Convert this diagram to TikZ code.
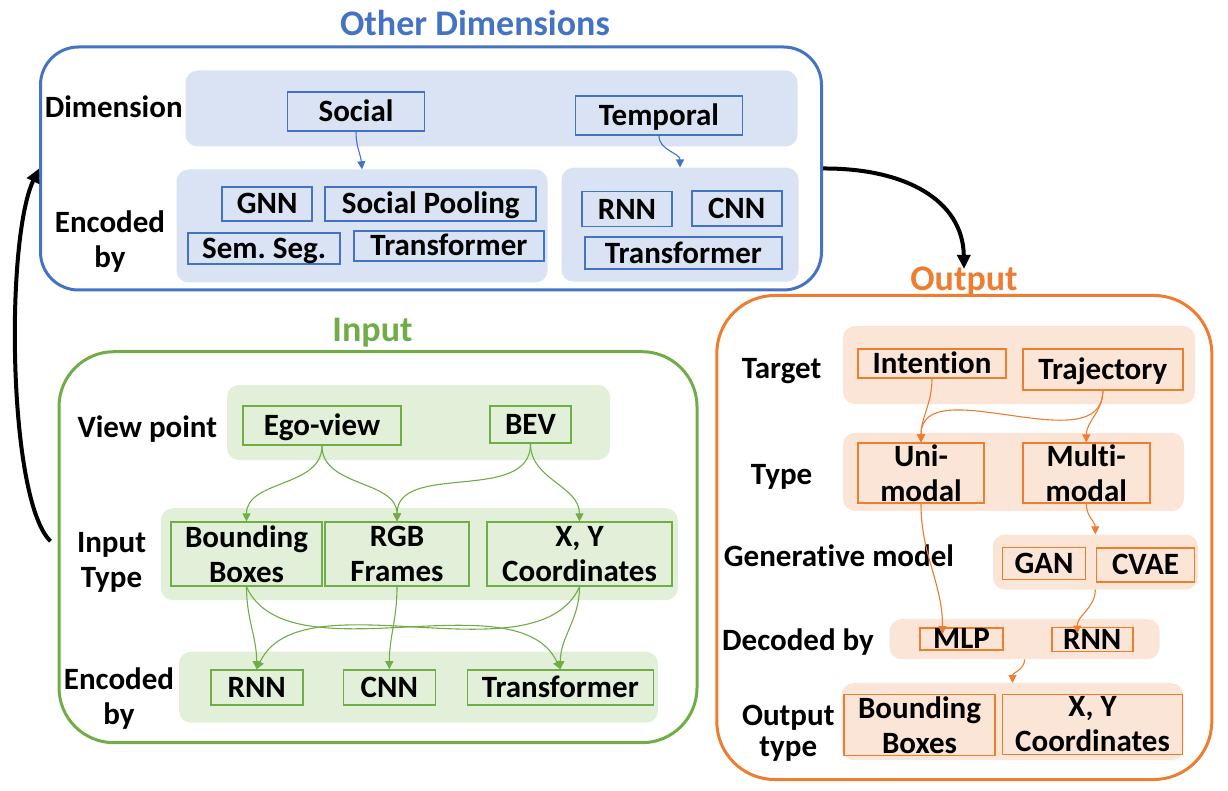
\documentclass[tikz,border=0pt]{standalone}
\usepackage{fontspec}
\setmainfont{Carlito}[Ligatures=NoCommon]
\usetikzlibrary{arrows.meta}
\frenchspacing

\definecolor{odblue}{HTML}{4472C4}
\definecolor{odband}{HTML}{DAE3F3}
\definecolor{ingreen}{HTML}{70AD47}
\definecolor{inband}{HTML}{E2F0D9}
\definecolor{outorange}{HTML}{ED7D31}
\definecolor{outband}{HTML}{FBE5D6}

\tikzset{
  lbl/.style={font=\fontsize{31}{35}\selectfont\bfseries, align=center, inner sep=0pt},
  oneline/.style={text height=20pt, text depth=0pt},
  ttl/.style={font=\fontsize{36}{40}\selectfont\bfseries, inner sep=0pt, anchor=base},
  panel/.style={draw=#1, line width=3pt, inner sep=0pt},
  band/.style={fill=#1, rounded corners=12pt, inner sep=0pt},
  item/.style={lbl, draw=#1, line width=1.6pt},
  link/.style={-{Triangle[length=8pt,width=8pt]}, draw=#1, line width=1.1pt},
  bigarrow/.style={-{Triangle[length=14pt,width=13pt]}, line width=4pt},
}

\begin{document}
\begin{tikzpicture}[x=1pt, y=-1pt]
\useasboundingbox (0,0) rectangle (1228,791);

% other dimensions
\node[panel=odblue, rounded corners=38pt, minimum width=781pt, minimum height=243pt] (oth) at (431,168.5) {};
\node[ttl, text=odblue] (othttl) at (475,36) {Other Dimensions};
\node[band=odband, minimum width=612pt, minimum height=76pt] (dimband) at (491.5,108.5) {};
\node[band=odband, minimum width=371pt, minimum height=113pt] (encl) at (362,226) {};
\node[band=odband, minimum width=237pt, minimum height=114pt] (encr) at (680,224.7) {};
\node[lbl, oneline] (dimlbl) at (113.7,107.5) {Dimension};
\node[lbl] (oenclbl) at (110,242) {Encoded\\by};
\node[item=odblue, oneline, minimum width=137pt, minimum height=39pt] (social) at (356,111.7) {Social};
\node[item=odblue, oneline, minimum width=167pt, minimum height=39pt] (temporal) at (659,115.5) {Temporal};
\node[item=odblue, oneline, minimum width=90pt, minimum height=34pt] (gnn) at (267.2,203.9) {GNN};
\node[item=odblue, oneline, minimum width=211pt, minimum height=34pt] (spool) at (430.7,203.9) {Social Pooling};
\node[item=odblue, oneline, minimum width=152pt, minimum height=31pt] (semseg) at (264.2,248.4) {Sem. Seg.};
\node[item=odblue, oneline, minimum width=190pt, minimum height=30pt] (otfl) at (449,246) {Transformer};
\node[item=odblue, oneline, minimum width=90pt, minimum height=35pt] (ornn) at (627,209.2) {RNN};
\node[item=odblue, oneline, minimum width=90pt, minimum height=35pt] (ocnn) at (736.7,208.5) {CNN};
\node[item=odblue, oneline, minimum width=197pt, minimum height=32pt] (otfr) at (683.4,253.3) {Transformer};
\draw[link=odblue] (social.south) to[out=-90,in=95] (encl.north);
\draw[link=odblue] (temporal.south) to[out=-90,in=90] (encr.north);

% input
\node[panel=ingreen, rounded corners=55pt, minimum width=638pt, minimum height=391pt] (inp) at (378,547.2) {};
\node[ttl, text=ingreen] (inpttl) at (372.5,341.7) {Input};
\node[band=inband, minimum width=383pt, minimum height=75pt] (vpband) at (418.5,422.5) {};
\node[band=inband, minimum width=517pt, minimum height=92pt] (itband) at (419.3,554.2) {};
\node[band=inband, minimum width=479pt, minimum height=71pt] (ieband) at (418.5,687.2) {};
\node[lbl, oneline] (vplbl) at (147.3,427.5) {View point};
\node[lbl] (itlbl) at (111.5,562) {Input\\Type};
\node[lbl] (ienclbl) at (119,699) {Encoded\\by};
\node[item=ingreen, oneline, minimum width=158pt, minimum height=39pt] (ego) at (322,425.5) {Ego-view};
\node[item=ingreen, oneline, minimum width=81pt, minimum height=37pt] (bev) at (530.5,424.7) {BEV};
\node[item=ingreen, minimum width=151pt, minimum height=64pt] (bbin) at (246.5,554.2) {Bounding\\Boxes};
\node[item=ingreen, minimum width=144pt, minimum height=64pt] (rgb) at (397,554.2) {RGB\\Frames};
\node[item=ingreen, minimum width=185pt, minimum height=64pt] (xyin) at (579.5,554.2) {X, Y\\Coordinates};
\node[item=ingreen, oneline, minimum width=92pt, minimum height=35pt] (irnn) at (256.7,687.5) {RNN};
\node[item=ingreen, oneline, minimum width=92pt, minimum height=35pt] (icnn) at (389.3,687.5) {CNN};
\node[item=ingreen, oneline, minimum width=186pt, minimum height=35pt] (itf) at (560.3,687.5) {Transformer};
\draw[link=ingreen] (ego.south) to[out=-90,in=90] (bbin.north);
\draw[link=ingreen] (ego.south) to[out=-90,in=90] (rgb.north);
\draw[link=ingreen] (bev.south) to[out=-90,in=90] (rgb.north);
\draw[link=ingreen] (bev.south) to[out=-90,in=90] (xyin.north);
\draw[link=ingreen] (bbin.south) to[out=-90,in=90] (irnn.north);
\draw[link=ingreen] (bbin.south) to[out=-65,in=115,looseness=0.8] (itf.north);
\draw[link=ingreen] (rgb.south) to[out=-90,in=90] (icnn.north);
\draw[link=ingreen] (xyin.south) to[out=-115,in=65,looseness=0.8] (irnn.north);
\draw[link=ingreen] (xyin.south) to[out=-90,in=90] (itf.north);

% output
\node[panel=outorange, rounded corners=58pt, minimum width=495pt, minimum height=484pt] (outp) at (964.3,537.5) {};
\node[ttl, text=outorange] (outttl) at (964,290.7) {Output};
\node[band=outband, minimum width=352pt, minimum height=78pt] (tgband) at (1019,365) {};
\node[band=outband, minimum width=341pt, minimum height=78pt] (tyband) at (1013.5,471.9) {};
\node[band=outband, minimum width=205pt, minimum height=55pt] (gnband) at (1095.3,562) {};
\node[band=outband, minimum width=270pt, minimum height=40pt] (dcband) at (1024.6,639.2) {};
\node[band=outband, minimum width=342pt, minimum height=77pt] (otband) at (1012.5,721.7) {};
\node[lbl, oneline] (tglbl) at (781.6,368.5) {Target};
\node[lbl, oneline] (tylbl) at (781.6,474.4) {Type};
\node[lbl, oneline] (gnlbl) at (839,556.6) {Generative model};
\node[lbl, oneline] (dclbl) at (798,640.8) {Decoded by};
\node[lbl, font=\fontsize{31}{31}\selectfont\bfseries] (otlbl) at (788.3,733) {Output\\type};
\node[item=outorange, oneline, minimum width=148pt, minimum height=29pt] (intent) at (932,363.2) {Intention};
\node[item=outorange, oneline, minimum width=160pt, minimum height=41pt] (traj) at (1102.8,369.3) {Trajectory};
\node[item=outorange, minimum width=126pt, minimum height=60pt] (uni) at (921,473.2) {Uni-\\modal};
\node[item=outorange, minimum width=127pt, minimum height=60pt] (multi) at (1086.3,473.2) {Multi-\\modal};
\node[item=outorange, oneline, minimum width=83pt, minimum height=32pt] (gan) at (1044,563.4) {GAN};
\node[item=outorange, oneline, minimum width=98pt, minimum height=34pt] (cvae) at (1145.5,564.8) {CVAE};
\node[item=outorange, oneline, minimum width=83pt, minimum height=22pt] (mlp) at (961.5,638.9) {MLP};
\node[item=outorange, oneline, minimum width=81pt, minimum height=24pt] (ornno) at (1092.2,639.3) {RNN};
\node[item=outorange, minimum width=151pt, minimum height=61pt] (bbo) at (919.5,725) {Bounding\\Boxes};
\node[item=outorange, minimum width=180pt, minimum height=60pt] (xyo) at (1092.5,724.3) {X, Y\\Coordinates};
\draw[link=outorange] (intent.south) to[out=-90,in=90] (uni.north);
\draw[link=outorange] (traj.south) to[out=-90,in=90] (uni.north);
\draw[link=outorange] (traj.south) to[out=-90,in=90] (multi.north);
\draw[link=outorange] (uni.south) to[out=-90,in=90] ([xshift=-19pt,yshift=-7pt]mlp.north);
\draw[link=outorange] (multi.south) to[out=-90,in=90] (gnband.north);
\draw[link=outorange] (gnband.south) to[out=-90,in=90] ([xshift=-15pt,yshift=-7pt]ornno.north);
\draw[link=outorange] (dcband.south) to[out=-90,in=90] (otband.north);

% links between panels
\draw[bigarrow] ([xshift=-7pt,yshift=6pt]inp.west) .. controls (8,500) and (5,240) .. (oth.west);
\draw[bigarrow] (oth.east) .. controls (905,168) and (963,200) .. ([yshift=-2pt]outttl.north);

\end{tikzpicture}
\end{document}
